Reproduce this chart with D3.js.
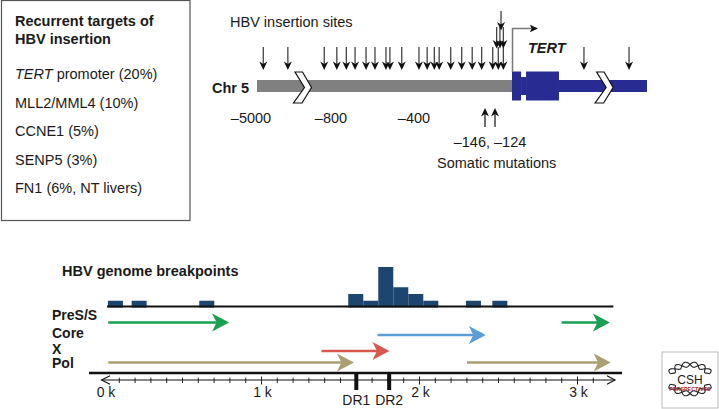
<!DOCTYPE html>
<html><head><meta charset="utf-8">
<script src="https://cdn.jsdelivr.net/npm/d3@7"></script>
<style>
body{margin:0;background:#fff}
svg{display:block}
text{font-family:"Liberation Sans",Arial,Helvetica,sans-serif;fill:#1a1a1a}
</style>
</head><body>
<svg id="c" width="719" height="409"></svg>
<script>
// ================= DATA =================
// Left box
const boxTitle = ["Recurrent targets of", "HBV insertion"];
const targetGenes = ["TERT", "MLL2/MML4", "CCNE1", "SENP5", "FN1"];
const targetNotes = [" promoter (20%)", " (10%)", " (5%)", " (3%)", " (6%, NT livers)"];
const targetItalic = [true, false, false, false, false];

// Top: TERT promoter region (bp relative to TSS, schematic / not to scale)
const chrTickValues = [-5000, -800, -400];
const chrTickLabels = ["\u20135000", "\u2013800", "\u2013400"];
const insertionLevel0 = [-4670, -3380, -1470, -810, -755, -713, -660, -617, -564, -545, -488,
                         -405, -372, -344, -325, -280, -237, -196, -159, -129, -100, -63, 533, 867];
const insertionLevel1 = [-112, -88, -63];
const insertionLevel2 = [-80];
const somaticMutations = [-146, -124];
const somaticLabel = "\u2013146, \u2013124";
const tertPartStart = [0, 67, 104, 348];
const tertPartEnd   = [67, 104, 348, 1000];
const tertPartKind  = ["exon", "notch", "exon", "intron"];
const chevronAt = [-3110, 612];

// Bottom: HBV genome breakpoints (bp)
const binStart = [28, 178, 606, 1549, 1644, 1739, 1834, 1929, 2024, 2294, 2461];
const binCount = [1, 1, 1, 2, 1, 6, 3, 2, 1, 1, 1];
const binWidth = 95;
const orfNames = ["PreS/S", "Core", "X", "Pol"];
const orfGene  = ["PreS/S", "PreS/S", "Core", "X", "Pol", "Pol"];
const orfStart = [30, 2900, 1735, 1380, 30, 2300];
const orfEnd   = [795, 3205, 2420, 1810, 1585, 3210];
const drSites  = [1600, 1808];
const drLabels = ["DR1", "DR2"];
const majorTicks = [0, 1000, 2000, 3000];
const majorTickLabels = ["0 k", "1 k", "2 k", "3 k"];
const genomeLength = 3215;

// ================= DRAW =================
const svg = d3.select("#c");
const F = 14.5;

// ---- left box ----
svg.append("rect").attr("x", 1.5).attr("y", 0.5).attr("width", 188.5).attr("height", 220)
  .attr("fill", "none").attr("stroke", "#555").attr("stroke-width", 1.2);
const titleY = d3.scaleLinear().domain([0, 1]).range([26, 43.5]);
svg.selectAll("text.btitle").data(boxTitle).join("text").attr("class", "btitle")
  .attr("x", 15).attr("y", (d, i) => titleY(i)).attr("font-size", F).attr("font-weight", "bold").text(d => d);
const targY = d3.scaleLinear().domain([0, 4]).range([79.3, 193.3]);
targetGenes.forEach((g, i) => {
  const t = svg.append("text").attr("x", 15).attr("y", targY(i)).attr("font-size", F);
  t.append("tspan").attr("font-style", targetItalic[i] ? "italic" : "normal").text(g);
  t.append("tspan").text(targetNotes[i]);
});

// ---- top: TERT promoter ----
const xT = d3.scaleLinear()
  .domain([-5000, -800, -400, -146, -124, 0, 1000])
  .range([257, 337, 420, 485, 495, 512, 647]);

svg.append("text").attr("x", 230).attr("y", 27).attr("font-size", F).text("HBV insertion sites");
svg.append("text").attr("x", 212).attr("y", 93).attr("font-size", F).attr("font-weight", "bold").text("Chr 5");

svg.append("rect").attr("x", xT(-5000)).attr("y", 80).attr("width", xT(0) - xT(-5000)).attr("height", 12)
  .attr("fill", "#808080");
const partH = {exon: [71.5, 100.5], notch: [77, 95], intron: [80, 92]};
tertPartStart.forEach((s, i) => {
  const h = partH[tertPartKind[i]];
  svg.append("rect").attr("x", xT(s)).attr("y", h[0]).attr("width", xT(tertPartEnd[i]) - xT(s))
    .attr("height", h[1] - h[0]).attr("fill", "#282c92");
});
chevronAt.forEach(v => {
  const x0 = xT(v), m = 87.5;
  const pts = [[2, -15.5], [9.5, -15.5], [18.5, 0], [9, 15.5], [0.5, 15.5], [11.5, 0]]
    .map(p => [x0 + p[0], m + p[1]]);
  svg.append("path").attr("d", d3.line()(pts) + "Z").attr("fill", "#fff")
    .attr("stroke", "#111").attr("stroke-width", 1.2).attr("stroke-linejoin", "miter");
});
svg.append("path").attr("d", `M${xT(0) + 0.5},72 V28.5 H531`).attr("fill", "none")
  .attr("stroke", "#777").attr("stroke-width", 1.5);
svg.append("path").attr("d", "M538,28.5 L530,24.8 L531.5,28.5 L530,32.2 Z").attr("fill", "#111");
svg.append("text").attr("x", 528).attr("y", 53).attr("font-size", F).attr("font-weight", "bold")
  .attr("font-style", "italic").text("TERT");

function downArrow(x, top, tip) {
  svg.append("line").attr("x1", x).attr("x2", x).attr("y1", top).attr("y2", tip - 5)
    .attr("stroke", "#444").attr("stroke-width", 1.3);
  svg.append("path").attr("d", `M${x},${tip} L${x - 4},${tip - 8.5} L${x},${tip - 6} L${x + 4},${tip - 8.5} Z`)
    .attr("fill", "#111");
}
function upArrow(x, tip, bottom) {
  svg.append("line").attr("x1", x).attr("x2", x).attr("y1", tip + 5).attr("y2", bottom)
    .attr("stroke", "#222").attr("stroke-width", 1.3);
  svg.append("path").attr("d", `M${x},${tip} L${x - 4},${tip + 8.5} L${x},${tip + 6} L${x + 4},${tip + 8.5} Z`)
    .attr("fill", "#111");
}
const levelTop = [47, 27, 11], levelTip = [70, 48.5, 30.5];
[insertionLevel0, insertionLevel1, insertionLevel2].forEach((arr, lv) => {
  arr.forEach(v => downArrow(xT(v), levelTop[lv], levelTip[lv]));
});
somaticMutations.forEach(v => upArrow(xT(v), 108, 127));

chrTickValues.forEach((v, i) => {
  svg.append("text").attr("x", xT(v) - 6).attr("y", 123).attr("text-anchor", "middle")
    .attr("font-size", F).text(chrTickLabels[i]);
});
svg.append("text").attr("x", (xT(somaticMutations[0]) + xT(somaticMutations[1])) / 2).attr("y", 147)
  .attr("text-anchor", "middle").attr("font-size", F).text(somaticLabel);
svg.append("text").attr("x", 437).attr("y", 168).attr("font-size", F).text("Somatic mutations");

// ---- bottom: HBV genome ----
const xB = d3.scaleLinear().domain([0, 1000]).range([103.5, 261.5]);
const yH = d3.scaleLinear().domain([0, 6]).range([307.5, 267]);

svg.append("text").attr("x", 62).attr("y", 276).attr("font-size", 14.5).attr("font-weight", "bold")
  .text("HBV genome breakpoints");

svg.selectAll("rect.bin").data(binStart).join("rect").attr("class", "bin")
  .attr("x", d => xB(d)).attr("width", d => xB(d + binWidth) - xB(d))
  .attr("y", (d, i) => yH(binCount[i])).attr("height", (d, i) => yH(0) - yH(binCount[i]))
  .attr("fill", "#1c4670");
svg.append("line").attr("x1", xB(22)).attr("x2", xB(3227)).attr("y1", 306.5).attr("y2", 306.5)
  .attr("stroke", "#111").attr("stroke-width", 2.2);

const rowY = d3.scaleOrdinal().domain(orfNames).range([322.5, 335, 351, 362.5]);
const labY = d3.scaleOrdinal().domain(orfNames).range([320, 338, 353.5, 368]);
const orfColor = d3.scaleOrdinal().domain(orfNames).range(["#15a150", "#5c9cd8", "#d9584d", "#a99f73"]);
orfNames.forEach(n => {
  svg.append("text").attr("x", 52).attr("y", labY(n)).attr("font-size", 14).attr("font-weight", "bold").text(n);
});
orfGene.forEach((g, i) => {
  const y = rowY(g), x0 = xB(orfStart[i]), x1 = xB(orfEnd[i]), c = orfColor(g);
  svg.append("line").attr("x1", x0).attr("x2", x1 - 12).attr("y1", y).attr("y2", y)
    .attr("stroke", c).attr("stroke-width", 2.5);
  svg.append("path").attr("d", `M${x1},${y} L${x1 - 17},${y - 9} L${x1 - 12.5},${y} L${x1 - 17},${y + 9} Z`)
    .attr("fill", c);
});

svg.append("line").attr("x1", 89).attr("x2", 622).attr("y1", 373).attr("y2", 373)
  .attr("stroke", "#111").attr("stroke-width", 2.4);

const axY = 380;
const ax0 = xB(0) - 2, ax1 = xB(genomeLength) + 3.5;
svg.append("line").attr("x1", ax0).attr("x2", ax1).attr("y1", axY).attr("y2", axY)
  .attr("stroke", "#111").attr("stroke-width", 1.1);
svg.append("path").attr("d", `M${ax0 + 8.5},${axY - 4.2} L${ax0},${axY} L${ax0 + 8.5},${axY + 4.2}`)
  .attr("fill", "none").attr("stroke", "#111").attr("stroke-width", 1.1);
svg.append("path").attr("d", `M${ax1 - 8},${axY - 4.2} L${ax1},${axY} L${ax1 - 8},${axY + 4.2}`)
  .attr("fill", "none").attr("stroke", "#111").attr("stroke-width", 1.1);
const minorTicks = d3.range(100, 3200, 100);
svg.selectAll("line.tick").data(minorTicks).join("line").attr("class", "tick")
  .attr("x1", d => xB(d)).attr("x2", d => xB(d))
  .attr("y1", d => d % 1000 === 0 ? axY - 3.5 : axY - 2.3)
  .attr("y2", d => d % 1000 === 0 ? axY + 4.5 : axY + 3)
  .attr("stroke", "#222").attr("stroke-width", 1);
majorTicks.forEach((v, i) => {
  svg.append("text").attr("x", xB(v) + (v === 0 ? 2.5 : 1)).attr("y", 397).attr("text-anchor", "middle")
    .attr("font-size", 14).text(majorTickLabels[i]);
});
drSites.forEach((v, i) => {
  svg.append("rect").attr("x", xB(v) - 2).attr("y", 374).attr("width", 4).attr("height", 16).attr("fill", "#111");
  svg.append("text").attr("x", xB(v)).attr("y", 405).attr("text-anchor", "middle").attr("font-size", 14)
    .text(drLabels[i]);
});

// ---- CSH Perspectives logo ----
const logo = svg.append("g");
logo.append("rect").attr("x", 662).attr("y", 352).attr("width", 56).attr("height", 56)
  .attr("fill", "#fff").attr("stroke", "#bbb").attr("stroke-width", 1);
const cx = 690, cy = 380;
function helix(a0, a1, phase) {
  const n = 60;
  const pts = d3.range(n + 1).map(k => {
    const a = a0 + (a1 - a0) * k / n;
    return [a, 15.5 + 2.6 * Math.sin(phase + k / n * Math.PI * 6)];
  });
  return d3.lineRadial().curve(d3.curveBasis)(pts);
}
[[-1.15, 1.15, 0], [Math.PI - 1.15, Math.PI + 1.15, -2]].forEach(r => {
  [0, Math.PI].forEach(ph => {
    logo.append("path").attr("transform", `translate(${cx},${cy + r[2]}) scale(1.4,1)`)
      .attr("d", helix(r[0], r[1], ph)).attr("vector-effect", "non-scaling-stroke")
      .attr("fill", "none").attr("stroke", "#222").attr("stroke-width", 1.1);
  });
});
logo.append("text").attr("x", cx).attr("y", 383.5).attr("text-anchor", "middle").attr("font-size", 12)
  .attr("fill", "#222").text("CSH");
logo.append("text").attr("x", cx).attr("y", 390.5).attr("text-anchor", "middle").attr("font-size", 5.4)
  .attr("font-weight", "bold").attr("font-family", "Liberation Serif, serif").style("fill", "#a3262e")
  .text("PERSPECTIVES");
</script>
</body></html>
